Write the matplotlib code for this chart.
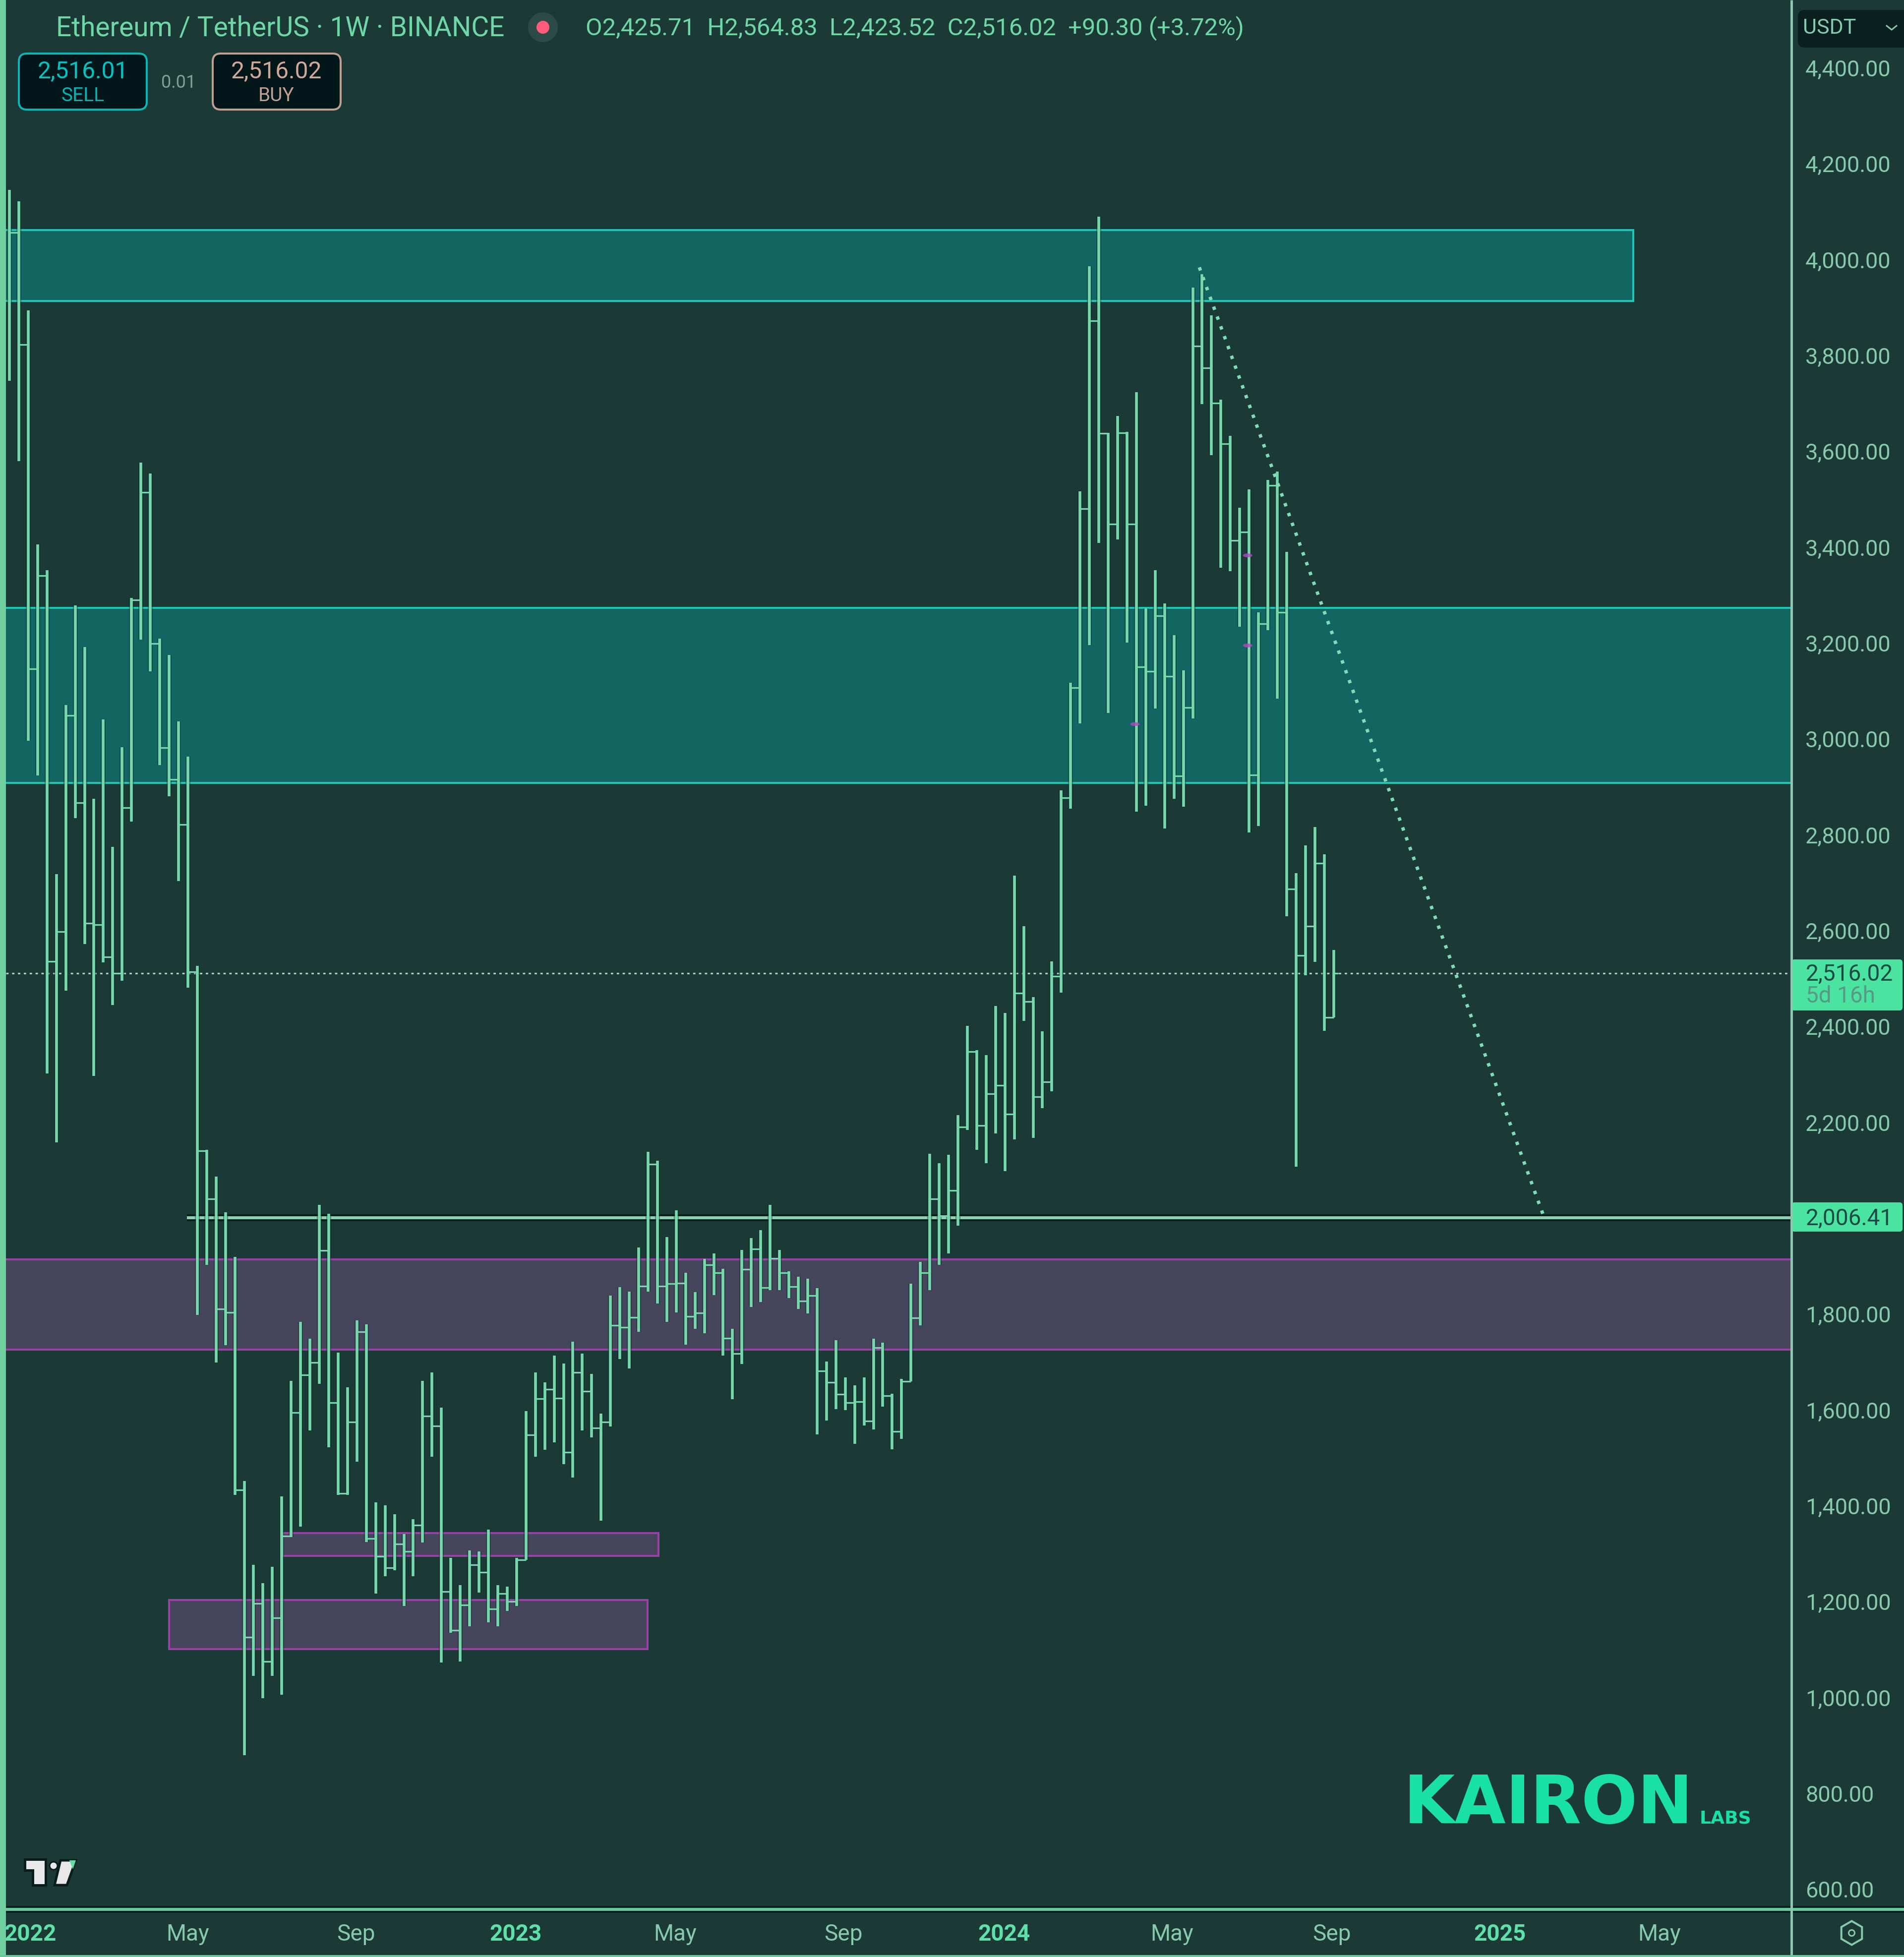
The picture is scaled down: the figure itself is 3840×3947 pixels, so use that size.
import matplotlib
matplotlib.use("Agg")
import matplotlib.pyplot as plt
from matplotlib.patches import Rectangle, FancyBboxPatch, Polygon, Circle, Ellipse
import numpy as np

plt.rcParams["font.family"] = ["Roboto", "DejaVu Sans"]
plt.rcParams["ytick.alignment"] = "center"

# weekly bars
highs = [
    4151, 4127, 3899, 3411, 3357, 2723, 3076, 3284, 3197, 2880, 3046, 2780, 2988, 3299, 3582, 3559, 3214, 3180, 3042, 2968,
    2532, 2148, 2092, 2017, 1924, 1457, 1282, 1244, 1278, 1425, 1666, 1789, 1754, 2033, 2014, 1725, 1652, 1792, 1784, 1412,
    1406, 1387, 1346, 1377, 1666, 1683, 1610, 1296, 1239, 1312, 1310, 1355, 1239, 1236, 1296, 1603, 1683, 1663, 1718, 1702,
    1747, 1723, 1680, 1597, 1844, 1861, 1852, 1944, 2144, 2125, 1966, 2022, 1891, 1851, 1920, 1932, 1899, 1774, 1939, 1964,
    1980, 2033, 1939, 1894, 1883, 1879, 1859, 1706, 1751, 1673, 1656, 1673, 1754, 1745, 1639, 1670, 1868, 1914, 2139, 2120,
    2137, 2220, 2406, 2356, 2345, 2448, 2433, 2720, 2614, 2466, 2395, 2541, 2898, 3122, 3522, 3991, 4095, 3644, 3679, 3646,
    3729, 3277, 3357, 3288, 3222, 3148, 3947, 3975, 3889, 3713, 3637, 3487, 3526, 3269, 3545, 3563, 3395, 2725, 2783, 2821,
    2764, 2564.83,
]
lows = [
    3752, 3585, 3001, 2929, 2307, 2163, 2480, 2840, 2577, 2302, 2539, 2450, 2501, 2833, 3212, 3146, 2951, 2885, 2708, 2486,
    1803, 1908, 1704, 1740, 1428, 885, 1050, 1004, 1050, 1011, 1340, 1362, 1562, 1659, 1527, 1428, 1428, 1497, 1329, 1222,
    1258, 1270, 1196, 1258, 1328, 1507, 1078, 1140, 1080, 1154, 1224, 1162, 1154, 1186, 1196, 1292, 1507, 1522, 1537, 1492,
    1464, 1562, 1548, 1374, 1570, 1711, 1692, 1768, 1852, 1827, 1789, 1808, 1741, 1774, 1765, 1845, 1718, 1627, 1701, 1820,
    1830, 1855, 1855, 1838, 1816, 1806, 1554, 1583, 1607, 1605, 1534, 1573, 1564, 1612, 1523, 1545, 1665, 1782, 1855, 1908,
    1932, 1990, 2189, 2148, 2120, 2182, 2103, 2169, 2417, 2173, 2235, 2270, 2476, 2859, 3037, 3201, 3414, 3059, 3421, 3206,
    2853, 2866, 3069, 2818, 2880, 2864, 3048, 3704, 3597, 3362, 3355, 3239, 2810, 2823, 3232, 3089, 2635, 2113, 2512, 2540,
    2396, 2423.52,
]
closes = [
    4062, 3828, 3151, 3346, 2541, 2603, 3054, 2872, 2621, 2617, 2550, 2516, 2862, 3295, 3520, 3204, 2987, 2921, 2826, 2519,
    2146, 2045, 1816, 1808, 1438, 1131, 1201, 1080, 1171, 1342, 1599, 1678, 1704, 1938, 1620, 1431, 1580, 1768, 1337, 1299,
    1276, 1325, 1310, 1365, 1592, 1572, 1226, 1145, 1198, 1282, 1266, 1190, 1222, 1205, 1292, 1553, 1628, 1648, 1629, 1517,
    1683, 1644, 1567, 1580, 1782, 1777, 1798, 1863, 2118, 1863, 1868, 1870, 1800, 1807, 1908, 1891, 1755, 1723, 1898, 1941,
    1860, 1921, 1891, 1862, 1832, 1844, 1686, 1663, 1638, 1620, 1622, 1582, 1735, 1635, 1560, 1665, 1797, 1891, 2045, 2010,
    2063, 2195, 2353, 2198, 2265, 2282, 2222, 2475, 2457, 2258, 2289, 2510, 2882, 3112, 3485, 3877, 3643, 3453, 3644, 3453,
    3155, 3146, 3262, 3136, 2928, 3071, 3825, 3779, 3706, 3621, 3419, 3437, 2930, 3245, 3534, 3269, 2692, 2553, 2614, 2746,
    2424, 2516.02,
]

price_ticks = [600, 800, 1000, 1200, 1400, 1600, 1800, 2000, 2200, 2400, 2600, 2800, 3000, 3200, 3400, 3600, 3800, 4000, 4200, 4400]
shown_ticks = [t for t in price_ticks if t != 2000]
time_ticks = [2.2, 19, 36.9, 53.9, 70.9, 88.8, 105.9, 123.8, 140.8, 158.7, 175.7]
time_labels = ["2022", "May", "Sep", "2023", "May", "Sep", "2024", "May", "Sep", "2025", "May"]
year_labels = ["2022", "2023", "2024", "2025"]

last_price = 2516.02
level_price = 2006.41
# (low, high, first week, last week), None = reaches the chart edge
teal_zones = [(3919, 4067, None, 172.9), (2913, 3279, None, None)]
purple_zones = [(1731, 1919, None, None), (1301, 1348, 29.1, 69.1), (1106, 1208, 17.0, 67.95)]
trend_weeks = [126.7, 163.5]
trend_prices = [3989, 2002]
marker_weeks = [119.85, 131.85, 131.85]
marker_prices = [3036, 3388, 3200]

BG = "#1b3a36"
BAR = "#76d8ab"
LINE = "#8fd0b0"
px = 72 / 100  # one picture pixel in points

fig = plt.figure(figsize=(38.4, 39.47), dpi=100, facecolor=BG)
ax = fig.add_axes([12 / 3840, 1 - 3851 / 3947, (3613 - 12) / 3840, 3851 / 3947], facecolor=BG)
ax.set_xlim(-0.37, 189.75)
ax.set_ylim(562.9, 4546.8)
for s in ax.spines.values():
    s.set_visible(False)


def zone(lo, hi, x0, x1, fill, edge):
    left, right = ax.get_xlim()
    a = left - 2 if x0 is None else x0
    b = right + 2 if x1 is None else x1
    ax.add_patch(Rectangle((a, lo), b - a, hi - lo, fc=fill, ec=edge, lw=4 * px, zorder=1))


for lo, hi, x0, x1 in teal_zones:
    zone(lo, hi, x0, x1, "#126662", "#1cc7b7")
for lo, hi, x0, x1 in purple_zones:
    zone(lo, hi, x0, x1, "#45465c", "#9a40a8")

weeks = np.arange(len(highs))
closes_arr = np.array(closes)
ax.vlines(weeks, lows, highs, color="#0c2a28", alpha=0.4, lw=10 * px, zorder=2.8, capstyle="butt")
ax.vlines(weeks, lows, highs, color=BAR, lw=5.6 * px, zorder=3, capstyle="butt")
ax.hlines(closes_arr[:-1], weeks[:-1], weeks[1:], color=BAR, lw=3.2 * px, zorder=3)
ax.hlines(closes_arr[-1], weeks[-1], weeks[-1] + 0.5, color=BAR, lw=3.2 * px, zorder=3)

# small purple dots, wider than tall
for w, p in zip(marker_weeks, marker_prices):
    ax.add_patch(Ellipse((w, p), 1.0, 8, fc="#b048c0", lw=0, alpha=0.8, zorder=4))

# current price and drawn level
ax.axhline(last_price, color="#a5cfc0", lw=3.2 * px, dashes=(1.5, 2.2), zorder=2)
ax.plot([18.9, 190], [level_price, level_price], color="#08201f", lw=14 * px, zorder=2, solid_capstyle="butt")
ax.plot([18.9, 190], [level_price, level_price], color=LINE, lw=6 * px, zorder=2.5, solid_capstyle="butt")
ax.plot(trend_weeks, trend_prices, color="#7fdcb5", lw=6.8 * px, dashes=(1.0, 2.1), zorder=5)

ax.yaxis.tick_right()
ax.set_yticks(shown_ticks)
ax.set_yticklabels([f"{t:,.2f}" for t in shown_ticks])
ax.tick_params(axis="y", length=0, pad=28 * px, labelsize=32.5, labelcolor="#86c9ab")
ax.set_xticks(time_ticks)
ax.set_xticklabels(time_labels)
ax.tick_params(axis="x", length=0, pad=28 * px, labelsize=33, labelcolor="#86c9ab")
for lbl in ax.get_xticklabels():
    if lbl.get_text() in year_labels:
        lbl.set_fontweight("bold")
        lbl.set_color("#5fe0a8")

# chart chrome, drawn in picture pixels
top = fig.add_axes([0, 0, 1, 1], facecolor="none")
top.set_xlim(0, 3840)
top.set_ylim(3947, 0)
top.axis("off")

top.add_patch(Rectangle((0, 0), 12, 3947, fc="#6fcf9f", lw=0))
top.plot([12, 3840], [3851, 3851], color="#082220", lw=14 * px, solid_capstyle="butt")
top.plot([12, 3840], [3851, 3851], color="#67c89a", lw=6 * px, solid_capstyle="butt")
top.plot([3613, 3613], [0, 3947], color="#8cc7ad", lw=5 * px, solid_capstyle="butt")
top.plot([0, 3840], [3945, 3945], color="#67c89a", lw=5 * px, solid_capstyle="butt")

top.text(113, 57, "Ethereum / TetherUS · 1W · BINANCE", fontsize=39.6, color="#6fd6a6", va="center")
top.add_patch(Circle((1095, 55), 30, fc="#2c4a47", lw=0))
top.add_patch(Circle((1095, 55), 13, fc="#ff5c7a", lw=0))
top.text(1181, 57, "O2,425.71  H2,564.83  L2,423.52  C2,516.02  +90.30 (+3.72%)", fontsize=35.2,
         color="#6fd6a6", va="center")

top.add_patch(FancyBboxPatch((38, 108), 258, 113, boxstyle="round,pad=0,rounding_size=16", fc="#03161a", ec="#08b8b8", lw=4 * px))
top.text(167, 145, "2,516.01", fontsize=34.5, color="#00c4c4", ha="center", va="center")
top.text(167, 194, "SELL", fontsize=28, color="#00b4b4", ha="center", va="center")
top.text(360, 167, "0.01", fontsize=26, color="#7f9f95", ha="center", va="center")
top.add_patch(FancyBboxPatch((429, 108), 258, 113, boxstyle="round,pad=0,rounding_size=16", fc="#03161a", ec="#c0a090", lw=4 * px))
top.text(557, 145, "2,516.02", fontsize=34.5, color="#d0a898", ha="center", va="center")
top.text(557, 194, "BUY", fontsize=28, color="#c0a090", ha="center", va="center")

top.add_patch(FancyBboxPatch((3626, 20), 240, 76, boxstyle="round,pad=0,rounding_size=14", fc="#0a1f1f", lw=0, clip_on=True))
top.text(3636, 57, "USDT", fontsize=31, color="#86c9ab", va="center")
top.plot([3805, 3815, 3825], [52, 60, 52], color="#86c9ab", lw=3 * px)

top.add_patch(FancyBboxPatch((3613, 1935), 224, 103, boxstyle="round,pad=0,rounding_size=6", fc="#4be3a0", lw=0))
top.text(3642, 1964, "2,516.02", fontsize=33, color="#1d4a44", va="center")
top.text(3642, 2009, "5d 16h", fontsize=33, color="#569a86", va="center")
top.add_patch(FancyBboxPatch((3613, 2425), 224, 59, boxstyle="round,pad=0,rounding_size=6", fc="#4be3a0", lw=0))
top.text(3642, 2457, "2,006.41", fontsize=33, color="#1d4a44", va="center")

top.text(2831, 3677, "KAIRON", fontsize=96, fontweight="bold", family="DejaVu Sans", color="#19e0a3", va="baseline")
top.text(3428, 3677, "LABS", fontsize=26, fontweight="bold", family="DejaVu Sans", color="#19e0a3", va="baseline")

# tradingview mark
top.add_patch(Polygon([[50, 3750], [92, 3750], [92, 3802], [66, 3802], [66, 3772], [50, 3772]], fc="#e8e8e8", ec="#0a1c1c", lw=5 * px))
top.add_patch(Circle((108, 3763), 8, fc="#e8e8e8", ec="#0a1c1c", lw=3 * px))
top.add_patch(Polygon([[122, 3752], [153, 3752], [135, 3802], [110, 3802]], fc="#e8e8e8", ec="#0a1c1c", lw=5 * px))
top.add_patch(Polygon([[140, 3752], [153, 3752], [147, 3770]], fc="#5fe0a8", lw=0))

# settings icon
top.plot([3734], [3898], marker="h", ms=48 * px, mfc="none", mec="#86c9ab", mew=4 * px)
top.plot([3734], [3898], marker="o", ms=12 * px, mfc="none", mec="#86c9ab", mew=3 * px)

fig.savefig("out.png", dpi=100, facecolor=BG)
